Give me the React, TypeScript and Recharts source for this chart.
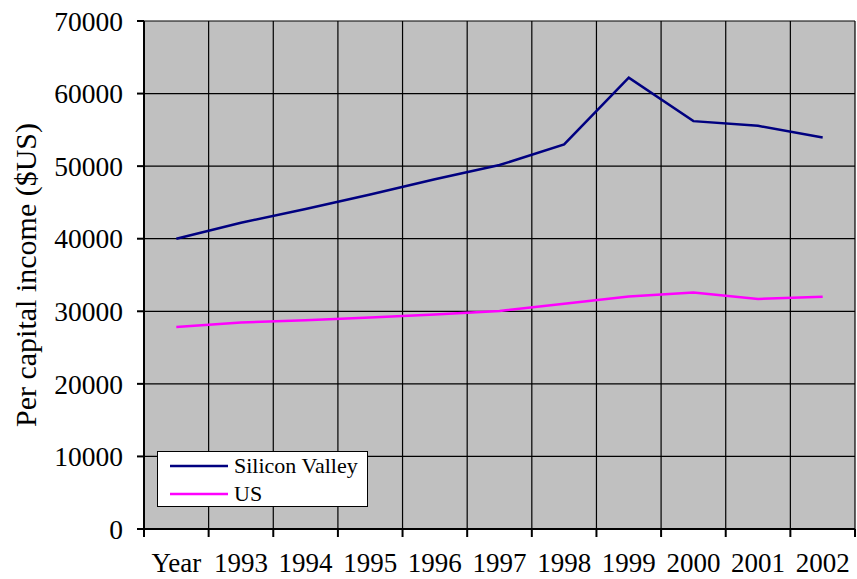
import {
  LineChart,
  Line,
  XAxis,
  YAxis,
  CartesianGrid,
  Legend,
  Label,
} from "recharts";

const categories = ["Year", "1993", "1994", "1995", "1996", "1997", "1998", "1999", "2000", "2001", "2002"];
const siliconValley = [40000, 42200, 44100, 46100, 48200, 50150, 53000, 62200, 56200, 55550, 53950];
const us = [27850, 28450, 28750, 29150, 29550, 30050, 31050, 32050, 32600, 31700, 32000];
const yTicks = [0, 10000, 20000, 30000, 40000, 50000, 60000, 70000];
const xBounds = [0, 1, 2, 3, 4, 5, 6, 7, 8, 9, 10, 11];

const data = categories.map((c, i) => ({ x: i + 0.5, label: c, sv: siliconValley[i], us: us[i] }));

const W = 857;
const H = 579;
const M = { top: 21, right: 2, left: 0, bottom: 0 };
const Y_W = 144;
const FONT = "Times New Roman, Liberation Serif, DejaVu Serif, serif";
const bandW = (W - M.left - M.right - Y_W) / categories.length;

const XTick = ({ x, y, payload }: any) => {
  const i = payload.value;
  if (i >= categories.length) return null;
  return (
    <text x={x + bandW / 2} y={y} dy={35} textAnchor="middle" fontSize={27} fontFamily={FONT} fill="#000">
      {categories[i]}
    </text>
  );
};

const LegendBox = () => (
  <div style={{ width: 209, height: 54, border: "1.5px solid #000", background: "#fff", fontFamily: FONT, fontSize: 22, color: "#000" }}>
    {[
      { name: "Silicon Valley", color: "#000080" },
      { name: "US", color: "#ff00ff" },
    ].map((e, i) => (
      <div key={e.name} style={{ display: "flex", alignItems: "center", height: 27, marginTop: i === 0 ? 0 : 1 }}>
        <svg width={72} height={10} style={{ marginLeft: 12 }}>
          <line x1={0} y1={5} x2={58} y2={5} stroke={e.color} strokeWidth={2.5} />
        </svg>
        <span style={{ marginLeft: -8 }}>{e.name}</span>
      </div>
    ))}
  </div>
);

export default function App() {
  return (
    <div style={{ position: "absolute", left: 0, top: 0 }}>
      <LineChart width={W} height={H} data={data} margin={M}>
        <CartesianGrid stroke="#000" strokeWidth={1.2} fill="#c0c0c0" fillOpacity={1} />
        <XAxis
          dataKey="x"
          type="number"
          domain={[0, 11]}
          ticks={xBounds}
          interval={0}
          height={50}
          tickSize={8}
          tickMargin={0}
          stroke="#000"
          strokeWidth={2}
          tick={<XTick />}
        />
        <YAxis
          domain={[0, 70000]}
          ticks={yTicks}
          interval={0}
          width={Y_W}
          tickSize={7}
          tickMargin={14}
          stroke="#000"
          strokeWidth={2}
          tick={{ fontSize: 27.5, fontFamily: FONT, fill: "#000" }}
        >
          <Label
            content={({ viewBox }: any) => {
              const cx = viewBox.x + 25;
              const cy = viewBox.y + viewBox.height / 2;
              return (
                <text
                  x={cx}
                  y={cy}
                  transform={`rotate(-90 ${cx} ${cy})`}
                  textAnchor="middle"
                  dominantBaseline="central"
                  fontSize={30}
                  fontFamily={FONT}
                  fill="#000"
                >
                  Per capital income ($US)
                </text>
              );
            }}
          />
        </YAxis>
        <Legend
          layout="horizontal"
          verticalAlign="middle"
          align="center"
          content={<LegendBox />}
          wrapperStyle={{ position: "absolute", left: 157, top: 451, width: "auto" }}
        />
        <Line type="linear" dataKey="sv" name="Silicon Valley" stroke="#000080" strokeWidth={2.5} dot={false} isAnimationActive={false} />
        <Line type="linear" dataKey="us" name="US" stroke="#ff00ff" strokeWidth={2.5} dot={false} isAnimationActive={false} />
      </LineChart>
    </div>
  );
}
